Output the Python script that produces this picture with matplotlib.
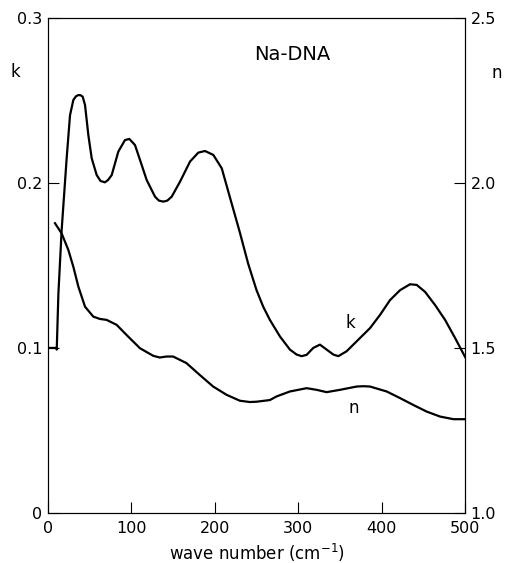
import matplotlib
matplotlib.use("Agg")
import matplotlib.pyplot as plt

# k curve (extinction coefficient), left axis
k_wave = [0, 10, 10.5, 12.5, 16.4, 18.4, 22.4, 26.4, 30.4, 33.5, 36.4, 39, 41.6, 44.4,
          48.4, 52.4, 58.4, 63, 68.3, 72, 76.4, 84.3, 92.3, 97.5, 104.3, 110.3,
          118.3, 128.3, 133, 138.3, 143, 148.3, 158.3, 170.3, 180.2, 188.2, 198.2,
          208.3, 216.2, 230, 240, 250, 258, 266, 278, 290, 298, 304, 310, 318,
          326, 334, 342, 348, 358, 370, 386, 398, 410, 422, 434, 442, 452, 464,
          476, 488, 500]
k_vals = [0.100, 0.100, 0.099, 0.133, 0.1715, 0.186, 0.215, 0.241, 0.2503, 0.2525,
          0.2533, 0.2532, 0.2523, 0.2473, 0.229, 0.215, 0.2048, 0.2012, 0.2004,
          0.2018, 0.2048, 0.219, 0.226, 0.2267, 0.223, 0.214, 0.2018, 0.1917,
          0.1893, 0.1887, 0.1893, 0.1917, 0.2008, 0.213, 0.2184, 0.2194, 0.217,
          0.2089, 0.1947, 0.170, 0.151, 0.135, 0.125, 0.117, 0.107, 0.099, 0.0960,
          0.0950, 0.0958, 0.100, 0.102, 0.099, 0.096, 0.095, 0.098, 0.104, 0.112,
          0.120, 0.129, 0.135, 0.1386, 0.1382, 0.134, 0.126, 0.117, 0.106, 0.0945]

# n curve (refractive index), right axis
n_wave = [8.4, 16.4, 24.4, 30.4, 36.4, 44.4, 54.3, 62, 70.3, 82.3, 94.3, 110.3, 126.3,
          134, 142.3, 150, 166, 182, 198, 214, 230, 242, 250, 266, 274, 290, 310,
          322, 334, 350, 370, 378, 386, 406, 422, 438, 454, 470, 486, 500]
n_vals = [1.878, 1.847, 1.797, 1.746, 1.686, 1.625, 1.595, 1.588, 1.585, 1.570, 1.539,
          1.499, 1.476, 1.471, 1.474, 1.474, 1.454, 1.418, 1.383, 1.358, 1.340, 1.336,
          1.337, 1.342, 1.353, 1.368, 1.378, 1.373, 1.366, 1.373, 1.383, 1.384,
          1.383, 1.368, 1.348, 1.327, 1.307, 1.292, 1.284, 1.284]

x_ticks = [0, 100, 200, 300, 400, 500]
k_ticks = [0, 0.1, 0.2, 0.3]
k_labels = ["0", "0.1", "0.2", "0.3"]
n_ticks = [1.0, 1.5, 2.0, 2.5]
n_labels = ["1.0", "1.5", "2.0", "2.5"]

fig = plt.figure(figsize=(5.05, 5.63), dpi=100)
ax = fig.add_axes([0.095, 0.089, 0.826, 0.879])
ax2 = ax.twinx()

ax.plot(k_wave, k_vals, color="black", linewidth=1.6, solid_joinstyle="round")
ax2.plot(n_wave, n_vals, color="black", linewidth=1.6, solid_joinstyle="round")

ax.set_xlim(0, 500)
ax.set_ylim(0, 0.3)
ax2.set_ylim(1.0, 2.5)

ax.set_xticks(x_ticks)
ax.set_yticks(k_ticks)
ax.set_yticklabels(k_labels)
ax2.set_yticks(n_ticks)
ax2.set_yticklabels(n_labels)

for a in (ax, ax2):
    a.tick_params(direction="in", length=8, width=0.8, labelsize=11.5, pad=4)
    for s in a.spines.values():
        s.set_linewidth(0.8)
ax.tick_params(axis="x", pad=6)

ax.set_xlabel("wave number (cm$^{-1}$)", fontsize=12, labelpad=4)

ax.text(-0.079, 0.891, "k", transform=ax.transAxes, fontsize=12,
        ha="center", va="center")
ax.text(1.077, 0.889, "n", transform=ax.transAxes, fontsize=12,
        ha="center", va="center")

ax.text(293, 0.2776, "Na-DNA", fontsize=14, ha="center", va="center")
ax.text(362, 0.115, "k", fontsize=12, ha="center", va="center")
ax.text(366, 0.0636, "n", fontsize=12, ha="center", va="center")

fig.savefig("out.png", dpi=100)
